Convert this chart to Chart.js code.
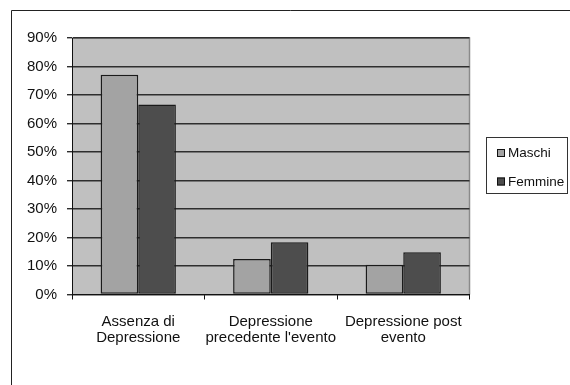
<!DOCTYPE html>
<html>
<head>
<meta charset="utf-8">
<script src="https://cdn.jsdelivr.net/npm/chart.js@4/dist/chart.umd.min.js"></script>
<style>
  html, body { margin: 0; padding: 0; background: #fff; }
  #c { display: block; }
</style>
</head>
<body>
<canvas id="c" width="570" height="385"></canvas>
<script>
// Categories (multi-line labels) and series values in percent
const categories = [
  ['Assenza di', 'Depressione'],
  ['Depressione', "precedente l'evento"],
  ['Depressione post', 'evento']
];
const seriesNames = ['Maschi', 'Femmine'];
const maschi = [77.1, 12.5, 10.4];
const femmine = [66.7, 18.3, 14.8];
const yTickValues = [0, 10, 20, 30, 40, 50, 60, 70, 80, 90];

const FONT = "'Liberation Sans', Arial, sans-serif";
const fills = ['#a3a3a3', '#4d4d4d'];

// Grey plot background plus outer frame lines
const backdrop = {
  id: 'backdrop',
  beforeDraw(chart) {
    const { ctx, chartArea: a } = chart;
    ctx.save();
    ctx.fillStyle = '#c0c0c0';
    ctx.fillRect(a.left, a.top, a.right - a.left, a.bottom - a.top);
    // plot area right/top border
    ctx.strokeStyle = '#8a8a8a';
    ctx.lineWidth = 1.5;
    ctx.beginPath();
    ctx.moveTo(a.left, a.top);
    ctx.lineTo(a.right, a.top);
    ctx.lineTo(a.right, a.bottom);
    ctx.stroke();
    // outer frame (left and top edges)
    ctx.strokeStyle = '#222';
    ctx.lineWidth = 1;
    ctx.beginPath();
    ctx.moveTo(11.5, 385);
    ctx.lineTo(11.5, 10.5);
    ctx.lineTo(570, 10.5);
    ctx.stroke();
    ctx.restore();
  }
};

// Boxed legend on the right side
const boxLegend = {
  id: 'boxLegend',
  afterDraw(chart) {
    const { ctx } = chart;
    const x0 = 486.5, y0 = 137.5, w = 81, h = 56;
    ctx.save();
    ctx.fillStyle = '#fff';
    ctx.fillRect(x0, y0, w, h);
    ctx.strokeStyle = '#333';
    ctx.lineWidth = 1;
    ctx.strokeRect(x0, y0, w, h);
    ctx.font = '13.5px ' + FONT;
    ctx.textBaseline = 'middle';
    chart.data.datasets.forEach((ds, i) => {
      const cy = 153 + i * 28.5;
      ctx.fillStyle = ds.backgroundColor;
      ctx.fillRect(497, cy - 4, 8, 8);
      ctx.strokeStyle = '#111';
      ctx.strokeRect(497.5, cy - 3.5, 7, 7);
      ctx.fillStyle = '#111';
      ctx.textAlign = 'left';
      ctx.fillText(ds.label, 508, cy + 0.5);
    });
    ctx.restore();
  }
};

new Chart(document.getElementById('c'), {
  type: 'bar',
  data: {
    labels: categories,
    datasets: [
      { label: seriesNames[0], data: maschi, backgroundColor: fills[0] },
      { label: seriesNames[1], data: femmine, backgroundColor: fills[1] }
    ]
  },
  options: {
    responsive: false,
    animation: false,
    devicePixelRatio: 1,
    layout: { padding: { left: 0, top: 38, right: 100.5, bottom: 0 } },
    datasets: {
      bar: {
        borderColor: '#1a1a1a',
        borderWidth: 1.5,
        borderSkipped: false,
        categoryPercentage: 0.568,
        barPercentage: 1
      }
    },
    plugins: {
      legend: { display: false },
      tooltip: { enabled: false }
    },
    scales: {
      x: {
        afterFit(scale) { scale.height = 90.5; },
        grid: {
          drawOnChartArea: false,
          color: '#111',
          tickLength: 5,
          offset: true
        },
        border: { color: '#111', width: 1 },
        ticks: {
          color: '#111',
          font: { family: FONT, size: 15, lineHeight: 1.1 },
          padding: 14,
          maxRotation: 0,
          autoSkip: false
        }
      },
      y: {
        min: 0,
        max: 90,
        afterFit(scale) { scale.width = 72; },
        afterBuildTicks(scale) { scale.ticks = yTickValues.map(v => ({ value: v })); },
        grid: {
          color: '#2e2e2e',
          lineWidth: 1.4,
          tickLength: 5
        },
        border: { color: '#111', width: 1 },
        ticks: {
          color: '#111',
          font: { family: FONT, size: 15 },
          padding: 10,
          callback: v => v + '%'
        }
      }
    }
  },
  plugins: [backdrop, boxLegend]
});
</script>
</body>
</html>
